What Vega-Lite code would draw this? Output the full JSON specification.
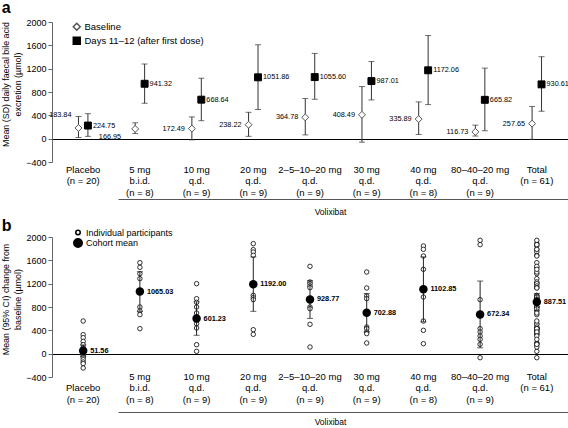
{
"$schema": "https://vega.github.io/schema/vega-lite/v6.json",
"padding": {"left": 1, "top": 0, "right": 0, "bottom": 0},
"spacing": 2,
"resolve": {"scale": {"fill": "independent", "stroke": "independent", "shape": "independent", "size": "independent"}, "legend": {"fill": "independent", "stroke": "independent", "shape": "independent", "size": "independent"}},
"config": {
  "font": "Liberation Sans",
  "view": {"stroke": null},
  "axis": {"grid": false, "labelColor": "black", "titleColor": "black", "domainColor": "#666", "tickColor": "#666"},
  "axisY": {"labelOverlap": false},
  "legend": {"labelColor": "black"},
  "title": {"fontSize": 16, "fontWeight": "bold", "anchor": "start", "frame": "bounds", "color": "black"}
},
"datasets": {
  "a": [
    {"g": "Placebo", "s": "Baseline", "m": 183.84, "lo": 20, "hi": 380},
    {"g": "Placebo", "s": "Days 11–12 (after first dose)", "m": 224.75, "lo": 40, "hi": 428},
    {"g": "5 mg", "s": "Baseline", "m": 166.95, "lo": 88, "hi": 272},
    {"g": "5 mg", "s": "Days 11–12 (after first dose)", "m": 941.32, "lo": 607, "hi": 1280},
    {"g": "10 mg", "s": "Baseline", "m": 172.49, "lo": -20, "hi": 373},
    {"g": "10 mg", "s": "Days 11–12 (after first dose)", "m": 668.64, "lo": 308, "hi": 1036},
    {"g": "20 mg", "s": "Baseline", "m": 238.22, "lo": 40, "hi": 452},
    {"g": "20 mg", "s": "Days 11–12 (after first dose)", "m": 1051.86, "lo": 500, "hi": 1610},
    {"g": "2–5–10–20 mg", "s": "Baseline", "m": 364.78, "lo": 65, "hi": 688},
    {"g": "2–5–10–20 mg", "s": "Days 11–12 (after first dose)", "m": 1055.60, "lo": 675, "hi": 1462},
    {"g": "30 mg", "s": "Baseline", "m": 408.49, "lo": -60, "hi": 893},
    {"g": "30 mg", "s": "Days 11–12 (after first dose)", "m": 987.01, "lo": 664, "hi": 1322},
    {"g": "40 mg", "s": "Baseline", "m": 335.89, "lo": 72, "hi": 630},
    {"g": "40 mg", "s": "Days 11–12 (after first dose)", "m": 1172.06, "lo": 584, "hi": 1768},
    {"g": "80–40–20 mg", "s": "Baseline", "m": 116.73, "lo": 45, "hi": 232},
    {"g": "80–40–20 mg", "s": "Days 11–12 (after first dose)", "m": 665.82, "lo": 136, "hi": 1210},
    {"g": "Total", "s": "Baseline", "m": 257.65, "lo": -12, "hi": 552},
    {"g": "Total", "s": "Days 11–12 (after first dose)", "m": 930.61, "lo": 470, "hi": 1405}
  ],
  "b": [
    {"g": "Placebo", "k": "Individual participants", "v": 560},
    {"g": "Placebo", "k": "Individual participants", "v": 326},
    {"g": "Placebo", "k": "Individual participants", "v": 274},
    {"g": "Placebo", "k": "Individual participants", "v": 211},
    {"g": "Placebo", "k": "Individual participants", "v": 154},
    {"g": "Placebo", "k": "Individual participants", "v": 103},
    {"g": "Placebo", "k": "Individual participants", "v": 80},
    {"g": "Placebo", "k": "Individual participants", "v": 60},
    {"g": "Placebo", "k": "Individual participants", "v": 57},
    {"g": "Placebo", "k": "Individual participants", "v": 45},
    {"g": "Placebo", "k": "Individual participants", "v": 30},
    {"g": "Placebo", "k": "Individual participants", "v": 20},
    {"g": "Placebo", "k": "Individual participants", "v": 11},
    {"g": "Placebo", "k": "Individual participants", "v": -10},
    {"g": "Placebo", "k": "Individual participants", "v": -46},
    {"g": "Placebo", "k": "Individual participants", "v": -60},
    {"g": "Placebo", "k": "Individual participants", "v": -103},
    {"g": "Placebo", "k": "Individual participants", "v": -143},
    {"g": "Placebo", "k": "Individual participants", "v": -171},
    {"g": "Placebo", "k": "Individual participants", "v": -246},
    {"g": "5 mg", "k": "Individual participants", "v": 1560},
    {"g": "5 mg", "k": "Individual participants", "v": 1480},
    {"g": "5 mg", "k": "Individual participants", "v": 1371},
    {"g": "5 mg", "k": "Individual participants", "v": 1286},
    {"g": "5 mg", "k": "Individual participants", "v": 800},
    {"g": "5 mg", "k": "Individual participants", "v": 731},
    {"g": "5 mg", "k": "Individual participants", "v": 669},
    {"g": "5 mg", "k": "Individual participants", "v": 429},
    {"g": "10 mg", "k": "Individual participants", "v": 1200},
    {"g": "10 mg", "k": "Individual participants", "v": 943},
    {"g": "10 mg", "k": "Individual participants", "v": 880},
    {"g": "10 mg", "k": "Individual participants", "v": 800},
    {"g": "10 mg", "k": "Individual participants", "v": 697},
    {"g": "10 mg", "k": "Individual participants", "v": 514},
    {"g": "10 mg", "k": "Individual participants", "v": 440},
    {"g": "10 mg", "k": "Individual participants", "v": 154},
    {"g": "10 mg", "k": "Individual participants", "v": 40},
    {"g": "20 mg", "k": "Individual participants", "v": 1886},
    {"g": "20 mg", "k": "Individual participants", "v": 1783},
    {"g": "20 mg", "k": "Individual participants", "v": 1743},
    {"g": "20 mg", "k": "Individual participants", "v": 1686},
    {"g": "20 mg", "k": "Individual participants", "v": 1000},
    {"g": "20 mg", "k": "Individual participants", "v": 960},
    {"g": "20 mg", "k": "Individual participants", "v": 926},
    {"g": "20 mg", "k": "Individual participants", "v": 411},
    {"g": "20 mg", "k": "Individual participants", "v": 331},
    {"g": "2–5–10–20 mg", "k": "Individual participants", "v": 1497},
    {"g": "2–5–10–20 mg", "k": "Individual participants", "v": 1229},
    {"g": "2–5–10–20 mg", "k": "Individual participants", "v": 1200},
    {"g": "2–5–10–20 mg", "k": "Individual participants", "v": 1160},
    {"g": "2–5–10–20 mg", "k": "Individual participants", "v": 1131},
    {"g": "2–5–10–20 mg", "k": "Individual participants", "v": 800},
    {"g": "2–5–10–20 mg", "k": "Individual participants", "v": 771},
    {"g": "2–5–10–20 mg", "k": "Individual participants", "v": 503},
    {"g": "2–5–10–20 mg", "k": "Individual participants", "v": 114},
    {"g": "30 mg", "k": "Individual participants", "v": 1400},
    {"g": "30 mg", "k": "Individual participants", "v": 1126},
    {"g": "30 mg", "k": "Individual participants", "v": 989},
    {"g": "30 mg", "k": "Individual participants", "v": 943},
    {"g": "30 mg", "k": "Individual participants", "v": 457},
    {"g": "30 mg", "k": "Individual participants", "v": 429},
    {"g": "30 mg", "k": "Individual participants", "v": 371},
    {"g": "30 mg", "k": "Individual participants", "v": 343},
    {"g": "30 mg", "k": "Individual participants", "v": 183},
    {"g": "40 mg", "k": "Individual participants", "v": 1846},
    {"g": "40 mg", "k": "Individual participants", "v": 1789},
    {"g": "40 mg", "k": "Individual participants", "v": 1674},
    {"g": "40 mg", "k": "Individual participants", "v": 1446},
    {"g": "40 mg", "k": "Individual participants", "v": 971},
    {"g": "40 mg", "k": "Individual participants", "v": 560},
    {"g": "40 mg", "k": "Individual participants", "v": 400},
    {"g": "40 mg", "k": "Individual participants", "v": 171},
    {"g": "80–40–20 mg", "k": "Individual participants", "v": 1943},
    {"g": "80–40–20 mg", "k": "Individual participants", "v": 1869},
    {"g": "80–40–20 mg", "k": "Individual participants", "v": 926},
    {"g": "80–40–20 mg", "k": "Individual participants", "v": 429},
    {"g": "80–40–20 mg", "k": "Individual participants", "v": 371},
    {"g": "80–40–20 mg", "k": "Individual participants", "v": 303},
    {"g": "80–40–20 mg", "k": "Individual participants", "v": 246},
    {"g": "80–40–20 mg", "k": "Individual participants", "v": 160},
    {"g": "80–40–20 mg", "k": "Individual participants", "v": -69},
    {"g": "Total", "k": "Individual participants", "v": 1560},
    {"g": "Total", "k": "Individual participants", "v": 1480},
    {"g": "Total", "k": "Individual participants", "v": 1371},
    {"g": "Total", "k": "Individual participants", "v": 1286},
    {"g": "Total", "k": "Individual participants", "v": 800},
    {"g": "Total", "k": "Individual participants", "v": 731},
    {"g": "Total", "k": "Individual participants", "v": 669},
    {"g": "Total", "k": "Individual participants", "v": 429},
    {"g": "Total", "k": "Individual participants", "v": 1200},
    {"g": "Total", "k": "Individual participants", "v": 943},
    {"g": "Total", "k": "Individual participants", "v": 880},
    {"g": "Total", "k": "Individual participants", "v": 800},
    {"g": "Total", "k": "Individual participants", "v": 697},
    {"g": "Total", "k": "Individual participants", "v": 514},
    {"g": "Total", "k": "Individual participants", "v": 440},
    {"g": "Total", "k": "Individual participants", "v": 154},
    {"g": "Total", "k": "Individual participants", "v": 40},
    {"g": "Total", "k": "Individual participants", "v": 1886},
    {"g": "Total", "k": "Individual participants", "v": 1783},
    {"g": "Total", "k": "Individual participants", "v": 1743},
    {"g": "Total", "k": "Individual participants", "v": 1686},
    {"g": "Total", "k": "Individual participants", "v": 1000},
    {"g": "Total", "k": "Individual participants", "v": 960},
    {"g": "Total", "k": "Individual participants", "v": 926},
    {"g": "Total", "k": "Individual participants", "v": 411},
    {"g": "Total", "k": "Individual participants", "v": 331},
    {"g": "Total", "k": "Individual participants", "v": 1497},
    {"g": "Total", "k": "Individual participants", "v": 1229},
    {"g": "Total", "k": "Individual participants", "v": 1200},
    {"g": "Total", "k": "Individual participants", "v": 1160},
    {"g": "Total", "k": "Individual participants", "v": 1131},
    {"g": "Total", "k": "Individual participants", "v": 800},
    {"g": "Total", "k": "Individual participants", "v": 771},
    {"g": "Total", "k": "Individual participants", "v": 503},
    {"g": "Total", "k": "Individual participants", "v": 114},
    {"g": "Total", "k": "Individual participants", "v": 1400},
    {"g": "Total", "k": "Individual participants", "v": 1126},
    {"g": "Total", "k": "Individual participants", "v": 989},
    {"g": "Total", "k": "Individual participants", "v": 943},
    {"g": "Total", "k": "Individual participants", "v": 457},
    {"g": "Total", "k": "Individual participants", "v": 429},
    {"g": "Total", "k": "Individual participants", "v": 371},
    {"g": "Total", "k": "Individual participants", "v": 343},
    {"g": "Total", "k": "Individual participants", "v": 183},
    {"g": "Total", "k": "Individual participants", "v": 1846},
    {"g": "Total", "k": "Individual participants", "v": 1789},
    {"g": "Total", "k": "Individual participants", "v": 1674},
    {"g": "Total", "k": "Individual participants", "v": 1446},
    {"g": "Total", "k": "Individual participants", "v": 971},
    {"g": "Total", "k": "Individual participants", "v": 560},
    {"g": "Total", "k": "Individual participants", "v": 400},
    {"g": "Total", "k": "Individual participants", "v": 171},
    {"g": "Total", "k": "Individual participants", "v": 1943},
    {"g": "Total", "k": "Individual participants", "v": 1869},
    {"g": "Total", "k": "Individual participants", "v": 926},
    {"g": "Total", "k": "Individual participants", "v": 429},
    {"g": "Total", "k": "Individual participants", "v": 371},
    {"g": "Total", "k": "Individual participants", "v": 303},
    {"g": "Total", "k": "Individual participants", "v": 246},
    {"g": "Total", "k": "Individual participants", "v": 160},
    {"g": "Total", "k": "Individual participants", "v": -69},
    {"g": "Placebo", "k": "Cohort mean", "v": 51.56, "lo": -45, "hi": 150},
    {"g": "5 mg", "k": "Cohort mean", "v": 1065.03, "lo": 725, "hi": 1405},
    {"g": "10 mg", "k": "Cohort mean", "v": 601.23, "lo": 315, "hi": 890},
    {"g": "20 mg", "k": "Cohort mean", "v": 1192.00, "lo": 726, "hi": 1658},
    {"g": "2–5–10–20 mg", "k": "Cohort mean", "v": 928.77, "lo": 605, "hi": 1253},
    {"g": "30 mg", "k": "Cohort mean", "v": 702.88, "lo": 375, "hi": 1031},
    {"g": "40 mg", "k": "Cohort mean", "v": 1102.85, "lo": 545, "hi": 1660},
    {"g": "80–40–20 mg", "k": "Cohort mean", "v": 672.34, "lo": 100, "hi": 1245},
    {"g": "Total", "k": "Cohort mean", "v": 887.51, "lo": 745, "hi": 1030}
  ]
},
"vconcat": [
  {
    "title": {"text": "a", "offset": 2},
    "width": 516, "height": 140,
    "data": {"name": "a"},
    "resolve": {"scale": {"x": "independent"}, "axis": {"x": "independent"}},
    "layer": [
      {"layer": [
        {"mark": {"type": "rule", "color": "#333", "strokeWidth": 1},
         "encoding": {
           "x": {"field": "g", "type": "nominal", "title": null, "scale": {"domain": ["Placebo","5 mg","10 mg","20 mg","2–5–10–20 mg","30 mg","40 mg","80–40–20 mg","Total"], "paddingInner": 0, "paddingOuter": 0.05},
                 "axis": {"labelExpr": "({'Placebo':['Placebo','(n = 20)'],'5 mg':['5 mg','b.i.d.','(n = 8)'],'10 mg':['10 mg','q.d.','(n = 9)'],'20 mg':['20 mg','q.d.','(n = 9)'],'2–5–10–20 mg':['2–5–10–20 mg','q.d.','(n = 9)'],'30 mg':['30 mg','q.d.','(n = 9)'],'40 mg':['40 mg','q.d.','(n = 8)'],'80–40–20 mg':['80–40–20 mg','q.d.','(n = 9)'],'Total':['Total','(n = 61)']})[datum.value]", "labelAngle": 0, "labelPadding": 2, "ticks": false, "domain": false, "labelBaseline": "top", "labelLineHeight": 11.7, "labelFontSize": 9.5, "labelOverlap": false, "labelBound": false}},
           "xOffset": {"field": "s", "type": "nominal", "scale": {"domain": ["pad-l", "Baseline", "Days 11–12 (after first dose)", "pad-r"], "paddingInner": 0, "paddingOuter": 1}},
           "y": {"field": "lo", "type": "quantitative", "scale": {"domain": [-400, 2000], "nice": false, "zero": false},
                 "axis": {"values": [-400, 0, 400, 800, 1200, 1600, 2000], "tickCount": 10, "format": "d", "labelOverlap": false, "grid": true, "gridColor": {"condition": {"test": "datum.value === 0", "value": "black"}, "value": "transparent"}, "gridWidth": 1, "title": ["Mean (SD) daily faecal bile acid", "excretion (µmol)"], "titleY": 62, "titlePadding": 3, "titleFontSize": 8.9, "titleFontWeight": "normal", "titleLineHeight": 12, "labelFontSize": 9, "tickSize": 4, "labelPadding": 2}},
           "y2": {"field": "hi"}
         }},
        {"mark": {"type": "tick", "size": 6, "thickness": 1, "color": "#333"},
         "encoding": {"x": {"field": "g", "type": "nominal"}, "xOffset": {"field": "s", "type": "nominal"}, "y": {"field": "lo", "type": "quantitative"}}},
        {"mark": {"type": "tick", "size": 6, "thickness": 1, "color": "#333"},
         "encoding": {"x": {"field": "g", "type": "nominal"}, "xOffset": {"field": "s", "type": "nominal"}, "y": {"field": "hi", "type": "quantitative"}}},
        {"mark": {"type": "point", "filled": true, "opacity": 1, "strokeWidth": 1, "size": 48},
         "encoding": {
           "x": {"field": "g", "type": "nominal"},
           "xOffset": {"field": "s", "type": "nominal"},
           "y": {"field": "m", "type": "quantitative"},
           "shape": {"field": "s", "type": "nominal", "scale": {"domain": ["Baseline", "Days 11–12 (after first dose)"], "range": ["diamond", "square"]}, "legend": {"orient": "none", "legendX": 20, "legendY": 0, "title": null, "labelFontSize": 9.5, "rowPadding": 0, "labelOffset": 3, "symbolSize": 48}},
           "fill": {"field": "s", "type": "nominal", "scale": {"domain": ["Baseline", "Days 11–12 (after first dose)"], "range": ["white", "black"]}, "legend": {"orient": "none", "legendX": 20, "legendY": 0, "title": null, "labelFontSize": 9.5, "rowPadding": 0, "labelOffset": 3, "symbolSize": 48}},
           "stroke": {"field": "s", "type": "nominal", "scale": {"domain": ["Baseline", "Days 11–12 (after first dose)"], "range": ["#555", "black"]}, "legend": {"orient": "none", "legendX": 20, "legendY": 0, "title": null, "labelFontSize": 9.5, "rowPadding": 0, "labelOffset": 3, "symbolSize": 48}}
         }},
        {"transform": [{"filter": "datum.s == 'Baseline'"}],
         "mark": {"type": "text", "align": "right", "dx": {"expr": "datum.g == '5 mg' ? -14 : -7"}, "dy": {"expr": "datum.g == 'Placebo' ? -13 : datum.g == '5 mg' ? 8 : 0"}, "fontSize": 7.3, "baseline": "middle", "color": "black"},
         "encoding": {"x": {"field": "g", "type": "nominal"}, "xOffset": {"field": "s", "type": "nominal"}, "y": {"field": "m", "type": "quantitative"}, "text": {"field": "m", "type": "quantitative", "format": ".2f"}}},
        {"transform": [{"filter": "datum.s != 'Baseline'"}],
         "mark": {"type": "text", "align": "left", "dx": 5, "fontSize": 7.3, "baseline": "middle", "color": "black"},
         "encoding": {"x": {"field": "g", "type": "nominal"}, "xOffset": {"field": "s", "type": "nominal"}, "y": {"field": "m", "type": "quantitative"}, "text": {"field": "m", "type": "quantitative", "format": ".2f"}}}
      ]},
      {"transform": [{"filter": "datum.g != 'Placebo'"}],
       "mark": {"type": "point", "opacity": 0},
       "encoding": {"x": {"field": "g", "type": "nominal", "scale": {"range": [66, 516]},
         "axis": {"orient": "bottom", "offset": 37, "ticks": false, "labels": false, "domain": true, "domainColor": "#555", "title": "Volixibat", "titleX": 278, "titleFontSize": 8.5, "titleFontWeight": "normal", "titlePadding": 8}}}}
    ]
  },
  {
    "title": {"text": "b", "offset": -6},
    "width": 516, "height": 140,
    "data": {"name": "b"},
    "resolve": {"scale": {"x": "independent"}, "axis": {"x": "independent"}},
    "layer": [
      {"layer": [
        {"transform": [{"filter": "datum.k == 'Individual participants'"}],
         "mark": {"type": "point", "filled": true, "opacity": 1, "strokeWidth": 0.8, "shape": "circle"},
         "encoding": {
           "x": {"field": "g", "type": "nominal", "title": null, "scale": {"domain": ["Placebo","5 mg","10 mg","20 mg","2–5–10–20 mg","30 mg","40 mg","80–40–20 mg","Total"], "paddingInner": 0, "paddingOuter": 0.05},
                 "axis": {"labelExpr": "({'Placebo':['','Placebo','(n = 20)'],'5 mg':['5 mg','b.i.d.','(n = 8)'],'10 mg':['10 mg','q.d.','(n = 9)'],'20 mg':['20 mg','q.d.','(n = 9)'],'2–5–10–20 mg':['2–5–10–20 mg','q.d.','(n = 9)'],'30 mg':['30 mg','q.d.','(n = 9)'],'40 mg':['40 mg','q.d.','(n = 8)'],'80–40–20 mg':['80–40–20 mg','q.d.','(n = 9)'],'Total':['Total','(n = 61)']})[datum.value]", "labelAngle": 0, "labelPadding": -6, "ticks": false, "domain": false, "labelBaseline": "top", "labelLineHeight": 11.7, "labelFontSize": 9.5, "labelOverlap": false, "labelBound": false}},
           "y": {"field": "v", "type": "quantitative", "scale": {"domain": [-400, 2000], "nice": false, "zero": false},
                 "axis": {"values": [-400, 0, 400, 800, 1200, 1600, 2000], "tickCount": 10, "format": "d", "labelOverlap": false, "grid": true, "gridColor": {"condition": {"test": "datum.value === 0", "value": "black"}, "value": "transparent"}, "gridWidth": 1, "title": ["Mean (95% CI) change from", "baseline (µmol)"], "titleY": 62, "titlePadding": 3, "titleFontSize": 8.9, "titleFontWeight": "normal", "titleLineHeight": 12, "labelFontSize": 9, "tickSize": 4, "labelPadding": 2}},
           "fill": {"field": "k", "type": "ordinal", "scale": {"domain": ["Individual participants", "Cohort mean"], "range": ["white", "black"]}, "legend": {"orient": "none", "legendX": 21, "legendY": -9, "title": null, "labelFontSize": 9, "rowPadding": -4, "labelOffset": 3}},
           "stroke": {"field": "k", "type": "ordinal", "scale": {"domain": ["Individual participants", "Cohort mean"], "range": ["black", "black"]}, "legend": {"orient": "none", "legendX": 21, "legendY": -9, "title": null, "labelFontSize": 9, "rowPadding": -4, "labelOffset": 3}},
           "size": {"field": "k", "type": "ordinal", "scale": {"domain": ["Individual participants", "Cohort mean"], "range": [20, 72]}, "legend": {"orient": "none", "legendX": 21, "legendY": -9, "title": null, "labelFontSize": 9, "rowPadding": -4, "labelOffset": 3}}
         }},
        {"transform": [{"filter": "datum.k == 'Cohort mean'"}],
         "mark": {"type": "rule", "color": "#222", "strokeWidth": 1},
         "encoding": {"x": {"field": "g", "type": "nominal"}, "y": {"field": "lo", "type": "quantitative"}, "y2": {"field": "hi"}}},
        {"transform": [{"filter": "datum.k == 'Cohort mean'"}],
         "mark": {"type": "tick", "size": 6, "thickness": 1, "color": "#222"},
         "encoding": {"x": {"field": "g", "type": "nominal"}, "y": {"field": "lo", "type": "quantitative"}}},
        {"transform": [{"filter": "datum.k == 'Cohort mean'"}],
         "mark": {"type": "tick", "size": 6, "thickness": 1, "color": "#222"},
         "encoding": {"x": {"field": "g", "type": "nominal"}, "y": {"field": "hi", "type": "quantitative"}}},
        {"transform": [{"filter": "datum.k == 'Cohort mean'"}],
         "mark": {"type": "point", "filled": true, "opacity": 1, "shape": "circle", "color": "black", "size": 72},
         "encoding": {"x": {"field": "g", "type": "nominal"}, "y": {"field": "v", "type": "quantitative"}}},
        {"transform": [{"filter": "datum.k == 'Cohort mean'"}],
         "mark": {"type": "text", "align": "left", "dx": 7, "fontSize": 7.3, "fontWeight": "bold", "baseline": "middle", "color": "black"},
         "encoding": {"x": {"field": "g", "type": "nominal"}, "y": {"field": "v", "type": "quantitative"}, "text": {"field": "v", "type": "quantitative", "format": ".2f"}}}
      ]},
      {"transform": [{"filter": "datum.g != 'Placebo' && datum.k == 'Cohort mean'"}],
       "mark": {"type": "point", "opacity": 0},
       "encoding": {"x": {"field": "g", "type": "nominal", "scale": {"range": [66, 516]},
         "axis": {"orient": "bottom", "offset": 35, "ticks": false, "labels": false, "domain": true, "domainColor": "#555", "title": "Volixibat", "titleX": 278, "titleFontSize": 8.5, "titleFontWeight": "normal", "titlePadding": 5}}}}
    ]
  }
]
}
